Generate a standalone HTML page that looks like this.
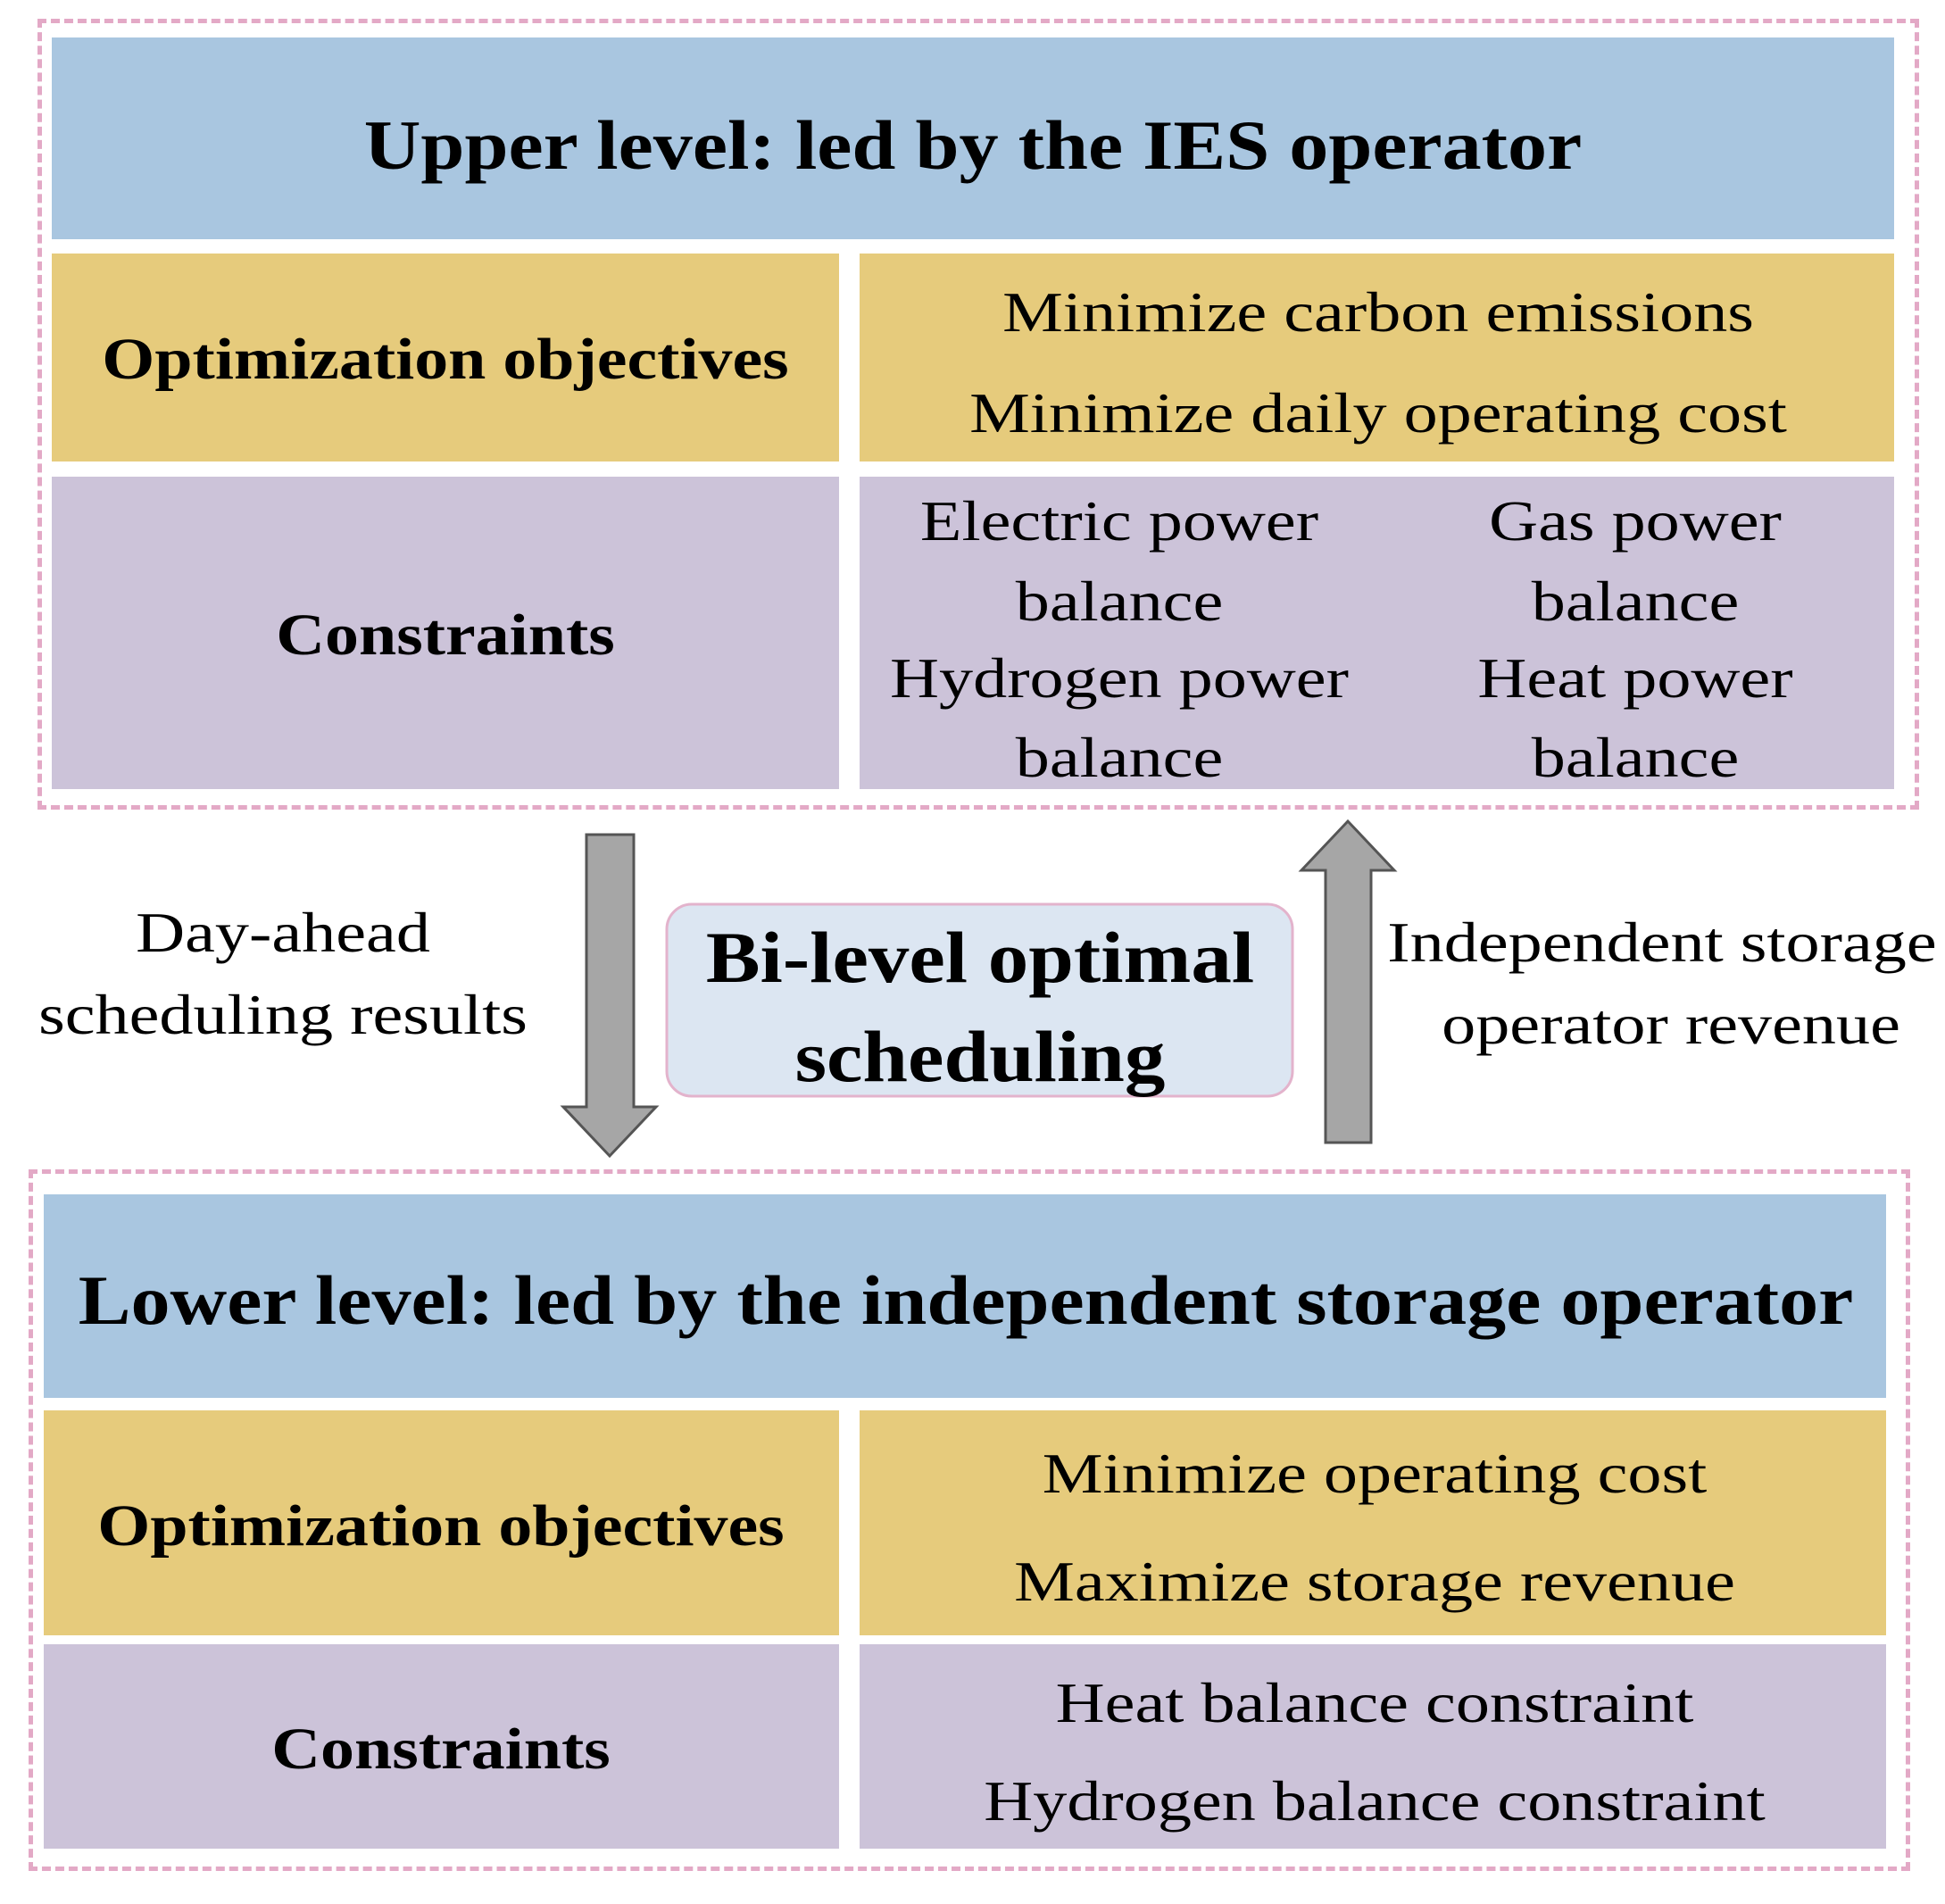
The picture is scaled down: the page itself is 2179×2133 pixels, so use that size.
<!DOCTYPE html>
<html><head><meta charset="utf-8"><style>
html,body{margin:0;padding:0;background:#fff;}
body{width:2179px;height:2133px;position:relative;overflow:hidden;font-family:"Liberation Serif",serif;color:#000;}
.r{position:absolute;}
.t{position:absolute;white-space:nowrap;text-align:center;height:100px;line-height:100px;transform:translateX(-50%) scaleX(1.19);}
.b{font-weight:bold;}
.h{transform:translateX(-50%) scaleX(1.13);}
.l{transform:translateX(-50%) scaleX(1.15);}
.s{transform:translateX(-50%) scaleX(1.11);}
.dash{position:absolute;border:5px dashed #e3a9c6;box-sizing:border-box;}
.blue{background:#a9c6e0;}
.yel{background:#e6cb7c;}
.pur{background:#ccc3d9;}
</style></head><body>
<div class="dash" style="left:42px;top:21px;width:2108px;height:886px"></div>
<div class="r blue" style="left:58px;top:42px;width:2064px;height:226px"></div>
<div class="r yel" style="left:58px;top:284px;width:882px;height:233px"></div>
<div class="r yel" style="left:963px;top:284px;width:1159px;height:233px"></div>
<div class="r pur" style="left:58px;top:534px;width:882px;height:350px"></div>
<div class="r pur" style="left:963px;top:534px;width:1159px;height:350px"></div>

<div class="t b h" style="left:1090px;top:113px;font-size:78px">Upper level: led by the IES operator</div>
<div class="t b l" style="left:499px;top:353px;font-size:66px">Optimization objectives</div>
<div class="t" style="left:1544px;top:300px;font-size:64px">Minimize carbon emissions</div>
<div class="t" style="left:1544px;top:413px;font-size:64px">Minimize daily operating cost</div>
<div class="t b l" style="left:499px;top:662px;font-size:66px">Constraints</div>
<div class="t" style="left:1254px;top:534px;font-size:64px">Electric power</div>
<div class="t" style="left:1254px;top:624px;font-size:64px">balance</div>
<div class="t" style="left:1254px;top:710px;font-size:64px">Hydrogen power</div>
<div class="t" style="left:1254px;top:799px;font-size:64px">balance</div>
<div class="t" style="left:1832px;top:534px;font-size:64px">Gas power</div>
<div class="t" style="left:1832px;top:624px;font-size:64px">balance</div>
<div class="t" style="left:1832px;top:710px;font-size:64px">Heat power</div>
<div class="t" style="left:1832px;top:799px;font-size:64px">balance</div>

<svg class="r" style="left:0;top:0" width="2179" height="2133">
<polygon points="657,935 710,935 710,1240 735,1240 683,1295 631,1240 657,1240" fill="#a6a6a6" stroke="#555" stroke-width="3"/>
<polygon points="1485,1280 1536,1280 1536,975 1562,975 1510,920 1458,975 1485,975" fill="#a6a6a6" stroke="#555" stroke-width="3"/>
<rect x="747" y="1013" width="701" height="215" rx="28" fill="#dce6f2" stroke="#e3b3cc" stroke-width="3"/>
</svg>
<div class="t" style="left:317px;top:995px;font-size:64px">Day-ahead</div>
<div class="t" style="left:317px;top:1087px;font-size:64px">scheduling results</div>
<div class="t" style="left:1862px;top:1006px;font-size:64px">Independent storage</div>
<div class="t" style="left:1872px;top:1098px;font-size:64px">operator revenue</div>
<div class="t b s" style="left:1098px;top:1023px;font-size:82px">Bi-level optimal</div>
<div class="t b s" style="left:1098px;top:1134px;font-size:82px">scheduling</div>

<div class="dash" style="left:32px;top:1310px;width:2108px;height:786px"></div>
<div class="r blue" style="left:49px;top:1338px;width:2064px;height:228px"></div>
<div class="r yel" style="left:49px;top:1580px;width:891px;height:252px"></div>
<div class="r yel" style="left:963px;top:1580px;width:1150px;height:252px"></div>
<div class="r pur" style="left:49px;top:1842px;width:891px;height:229px"></div>
<div class="r pur" style="left:963px;top:1842px;width:1150px;height:229px"></div>

<div class="t b h" style="left:1082px;top:1407px;font-size:78px">Lower level: led by the independent storage operator</div>
<div class="t b l" style="left:494px;top:1660px;font-size:66px">Optimization objectives</div>
<div class="t" style="left:1540px;top:1601px;font-size:64px">Minimize operating cost</div>
<div class="t" style="left:1540px;top:1722px;font-size:64px">Maximize storage revenue</div>
<div class="t b l" style="left:494px;top:1910px;font-size:66px">Constraints</div>
<div class="t" style="left:1540px;top:1858px;font-size:64px">Heat balance constraint</div>
<div class="t" style="left:1540px;top:1968px;font-size:64px">Hydrogen balance constraint</div>
</body></html>
